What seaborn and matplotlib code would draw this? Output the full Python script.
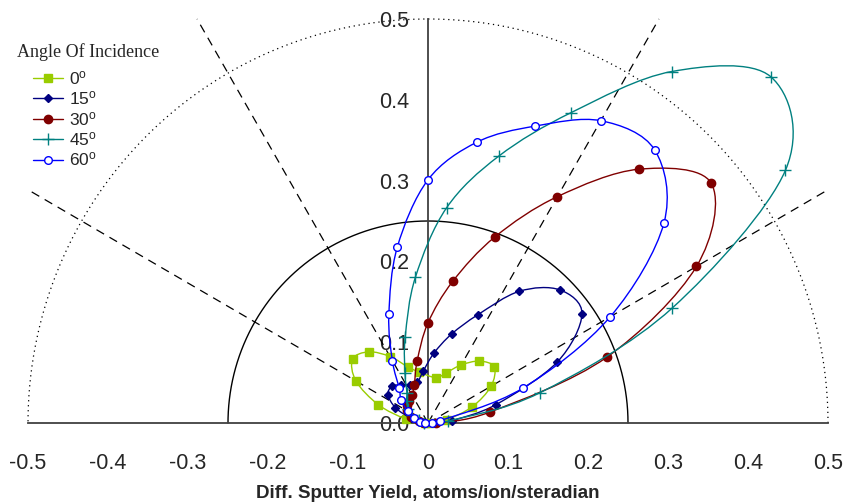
import numpy as np
import pandas as pd
import matplotlib
matplotlib.use("Agg")
import matplotlib.pyplot as plt
import seaborn as sns
from matplotlib.lines import Line2D
from matplotlib.path import Path
from matplotlib.patches import PathPatch

# ---------------- data (polar: emission angle in degrees, yield) ----------------
angles_0deg = [0, 10, 20, 30, 40, 50, 60, 70, 80, 100, 110, 120, 130, 140, 150, 160, 170, 180]
yield_0deg = [0.003, 0.024, 0.059, 0.091, 0.108, 0.100, 0.083, 0.066, 0.057,
              0.064, 0.074, 0.095, 0.115, 0.123, 0.104, 0.066, 0.028, 0.004]

angles_15deg = [5, 15, 25, 35, 45, 55, 65, 75, 85, 95, 105, 115, 125, 135, 145, 155, 165, 175]
yield_15deg = [0.030, 0.088, 0.178, 0.235, 0.233, 0.199, 0.148, 0.114, 0.087,
               0.065, 0.052, 0.052, 0.058, 0.064, 0.061, 0.045, 0.022, 0.008]

angles_30deg = [0, 10, 20, 30, 40, 50, 60, 70, 80, 90, 100, 110, 120, 130, 140, 150, 160, 170, 180]
yield_30deg = [0.010, 0.079, 0.2375, 0.3875, 0.462, 0.410, 0.3235, 0.2453, 0.178, 0.124,
               0.078, 0.050, 0.040, 0.036, 0.034, 0.031, 0.022, 0.012, 0.005]

angles_45deg = [5, 15, 25, 35, 45, 55, 65, 75, 85, 95, 105, 115, 125, 135, 145, 155, 165, 175]
yield_45deg = [0.025, 0.145, 0.337, 0.5455, 0.606, 0.531, 0.424, 0.342, 0.2675,
               0.181, 0.110, 0.068, 0.046, 0.038, 0.030, 0.022, 0.012, 0.005]

angles_60deg = [0, 10, 20, 30, 40, 50, 60, 70, 80, 90, 100, 110, 120, 130, 140, 150, 160, 170, 180]
yield_60deg = [0.005, 0.015, 0.126, 0.263, 0.385, 0.441, 0.432, 0.391, 0.353, 0.301,
               0.221, 0.143, 0.089, 0.056, 0.044, 0.029, 0.018, 0.010, 0.004]

series_labels = [r"0$^{\mathrm{o}}$", r"15$^{\mathrm{o}}$", r"30$^{\mathrm{o}}$",
                 r"45$^{\mathrm{o}}$", r"60$^{\mathrm{o}}$"]
x_tick_values = [-0.5, -0.4, -0.3, -0.2, -0.1, 0.0, 0.1, 0.2, 0.3, 0.4, 0.5]
x_tick_labels = ["-0.5", "-0.4", "-0.3", "-0.2", "-0.1", "0", "0.1", "0.2", "0.3", "0.4", "0.5"]
y_tick_values = [0.0, 0.1, 0.2, 0.3, 0.4, 0.5]
y_tick_labels = ["0.0", "0.1", "0.2", "0.3", "0.4", "0.5"]
x_label = "Diff. Sputter Yield, atoms/ion/steradian"
legend_title = "Angle Of Incidence"

# ---------------- style ----------------
sns.set_style("white")
plt.rcParams["font.family"] = ["Liberation Sans", "DejaVu Sans"]
plt.rcParams["mathtext.fontset"] = "custom"
plt.rcParams["mathtext.rm"] = "Liberation Sans"
plt.rcParams["mathtext.it"] = "Liberation Sans:italic"
plt.rcParams["mathtext.bf"] = "Liberation Sans:bold"

colors = ["#99cc00", "#000080", "#800000", "#008080", "#0000ff"]
markers = ["s", "D", "o", "+", "o"]
msizes = [5.5, 4.5, 6, 9, 5.5]
mfaces = ["#99cc00", "#000080", "#800000", "#008080", "white"]

angle_lists = [angles_0deg, angles_15deg, angles_30deg, angles_45deg, angles_60deg]
yield_lists = [yield_0deg, yield_15deg, yield_30deg, yield_45deg, yield_60deg]

frames = []
for lab, ang, yl in zip(series_labels, angle_lists, yield_lists):
    th = np.deg2rad(np.array(ang, dtype=float))
    r = np.array(yl, dtype=float)
    frames.append(pd.DataFrame({"series": lab, "angle": ang, "r": r,
                                "x": r * np.cos(th), "y": r * np.sin(th)}))
df = pd.concat(frames, ignore_index=True)


def smooth_path(px, py):
    """Smoothed (Catmull-Rom style Bezier) connector through the data points."""
    p = np.column_stack([px, py])
    n = len(p)
    verts = [p[0]]
    codes = [Path.MOVETO]
    for i in range(n - 1):
        pm = p[max(i - 1, 0)]
        pn = p[min(i + 2, n - 1)]
        c1 = p[i] + (p[i + 1] - pm) / 6.0
        c2 = p[i + 1] - (pn - p[i]) / 6.0
        verts += [c1, c2, p[i + 1]]
        codes += [Path.CURVE4] * 3
    return Path(verts, codes)


W, H = 848, 503
fig = plt.figure(figsize=(W / 100, H / 100), dpi=100)
x0_px, sx = 428.0, 800.0
y0_px, sy = 423.0, 808.0
xlim = (-0.53, 0.525)
ylim = (-0.035, 0.52)
left = (x0_px + xlim[0] * sx) / W
right = (x0_px + xlim[1] * sx) / W
bottom = (H - (y0_px - ylim[0] * sy)) / H
top = (H - (y0_px - ylim[1] * sy)) / H
ax = fig.add_axes([left, bottom, right - left, top - bottom])
ax.set_xlim(*xlim)
ax.set_ylim(*ylim)

# guides: radius circles and dashed radial lines
t = np.linspace(0, np.pi, 400)
ax.plot(0.5 * np.cos(t), 0.5 * np.sin(t), color="black", lw=0.9, ls=(0, (1, 3)), zorder=1)
ax.plot(0.25 * np.cos(t), 0.25 * np.sin(t), color="black", lw=1.0, zorder=1)
for a in [30, 60, 120, 150]:
    ar = np.deg2rad(a)
    ax.plot([0, 0.5774 * np.cos(ar)], [0, 0.5774 * np.sin(ar)], color="black",
            lw=0.9, ls=(0, (7, 5)), zorder=1)

# series: smoothed connectors + markers
for i, lab in enumerate(series_labels):
    sub = df[df["series"] == lab]
    ax.add_patch(PathPatch(smooth_path(sub["x"].values, sub["y"].values),
                           facecolor="none", edgecolor=colors[i], lw=1.0,
                           zorder=3 + i))
    sns.lineplot(data=sub, x="x", y="y", sort=False, estimator=None, ax=ax,
                 color=colors[i], marker=markers[i], markersize=msizes[i],
                 markerfacecolor=mfaces[i], markeredgecolor=colors[i],
                 markeredgewidth=1.0, linestyle="none", legend=False, zorder=3.5 + i)

# axes styling
for s in ["top", "right"]:
    ax.spines[s].set_visible(False)
ax.spines["bottom"].set_position(("data", 0))
ax.spines["left"].set_position(("data", 0))
ax.spines["bottom"].set_bounds(-0.5, 0.5)
ax.spines["left"].set_bounds(0.0, 0.5)
for s in ["bottom", "left"]:
    ax.spines[s].set_color("#404040")
    ax.spines[s].set_linewidth(1.3)
    ax.spines[s].set_zorder(2)
ax.set_xticks(x_tick_values)
ax.set_xticklabels(x_tick_labels)
ax.set_yticks(y_tick_values)
ax.set_yticklabels(y_tick_labels)
ax.tick_params(axis="x", direction="inout", length=10.5, width=1.0, color="#404040",
               labelsize=15.5, pad=16.0)
ax.tick_params(axis="y", direction="inout", length=10.5, width=1.0, color="#404040",
               labelsize=15.5, pad=8.5)
ax.set_xlabel("")
ax.set_ylabel("")
ax.grid(False)

fig.text(428 / W, 1 - 493 / H, x_label, ha="center", va="center",
         fontsize=13.5, fontweight="bold")

fig.text(17 / W, 1 - 52 / H, legend_title, ha="left", va="center",
         fontsize=13, family=["Liberation Serif", "DejaVu Serif"])

handles = [Line2D([], [], color=colors[i], marker=markers[i], markersize=msizes[i],
                  markerfacecolor=mfaces[i], markeredgecolor=colors[i],
                  markeredgewidth=1.0, lw=1.0) for i in range(5)]
leg = ax.legend(handles, series_labels, loc="upper left",
                bbox_to_anchor=(33 / W, 1 - 69 / H), bbox_transform=fig.transFigure,
                frameon=False, fontsize=12.5, handlelength=1.75, handletextpad=0.3,
                labelspacing=0.14, borderpad=0.0, borderaxespad=0.0)

fig.savefig("out.png", dpi=100)
